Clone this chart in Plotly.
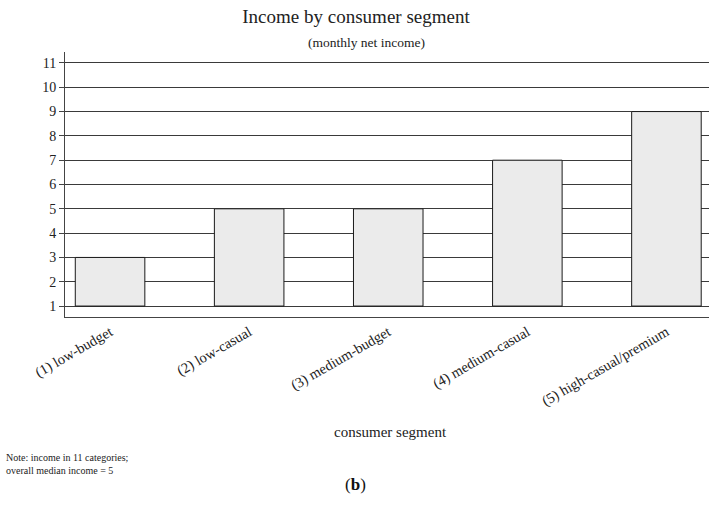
import plotly.graph_objects as go

categories = ["(1) low-budget", "(2) low-casual", "(3) medium-budget",
              "(4) medium-casual", "(5) high-casual/premium"]
income = [3, 5, 5, 7, 9]
baseline = 1
y_ticks = list(range(1, 12))

FONT = "Liberation Serif"

fig = go.Figure()
fig.add_trace(go.Bar(
    x=list(range(len(categories))),
    y=[v - baseline for v in income],
    base=baseline,
    width=0.5,
    marker=dict(color="#ebebeb", line=dict(color="#1a1a1a", width=1)),
    hoverinfo="skip",
))

fig.update_layout(
    width=709, height=505,
    margin=dict(l=65, r=0, t=52, b=188),
    paper_bgcolor="white", plot_bgcolor="white",
    font=dict(family=FONT, color="#222", size=14),
    showlegend=False,
    title=dict(text="Income by consumer segment", x=356 / 709, xref="container",
               xanchor="center", y=1 - 16 / 505, yref="container", yanchor="middle",
               font=dict(family=FONT, size=19, color="#222")),
    xaxis=dict(
        range=[-0.324, 4.306],
        tickmode="array", tickvals=list(range(len(categories))), ticktext=categories,
        tickangle=-30, ticks="", showgrid=False, zeroline=False,
        showline=True, linecolor="#444", linewidth=1,
        tickfont=dict(family=FONT, size=14.5, color="#222"),
        automargin=False,
    ),
    yaxis=dict(
        range=[0.55, 11.45],
        tickmode="array", tickvals=y_ticks,
        ticks="outside", ticklen=5, tickcolor="#444",
        showgrid=True, gridcolor="#3a3a3a", gridwidth=1, zeroline=False,
        showline=True, linecolor="#444", linewidth=1,
        tickfont=dict(family=FONT, size=14, color="#222"),
        automargin=False,
    ),
    annotations=[
        dict(text="(monthly net income)", xref="paper", yref="paper",
             x=(366 - 65) / 644, y=1 + (52 - 42) / 265, xanchor="center", yanchor="middle",
             showarrow=False, font=dict(family=FONT, size=13.5, color="#222")),
        dict(text="consumer segment", xref="paper", yref="paper",
             x=(390 - 65) / 644, y=-(432 - 317) / 265, xanchor="center", yanchor="middle",
             showarrow=False, font=dict(family=FONT, size=15, color="#222")),
        dict(text="Note: income in 11 categories;<br>overall median income = 5",
             xref="paper", yref="paper", align="left",
             x=-(65 - 4) / 644, y=-(450 - 317) / 265, xanchor="left", yanchor="top",
             showarrow=False, font=dict(family=FONT, size=10, color="#222")),
        dict(text="(<b>b</b>)", xref="paper", yref="paper",
             x=(355 - 65) / 644, y=-(485 - 317) / 265, xanchor="center", yanchor="middle",
             showarrow=False, font=dict(family=FONT, size=17, color="#111")),
    ],
)

fig.write_html("out.html")
